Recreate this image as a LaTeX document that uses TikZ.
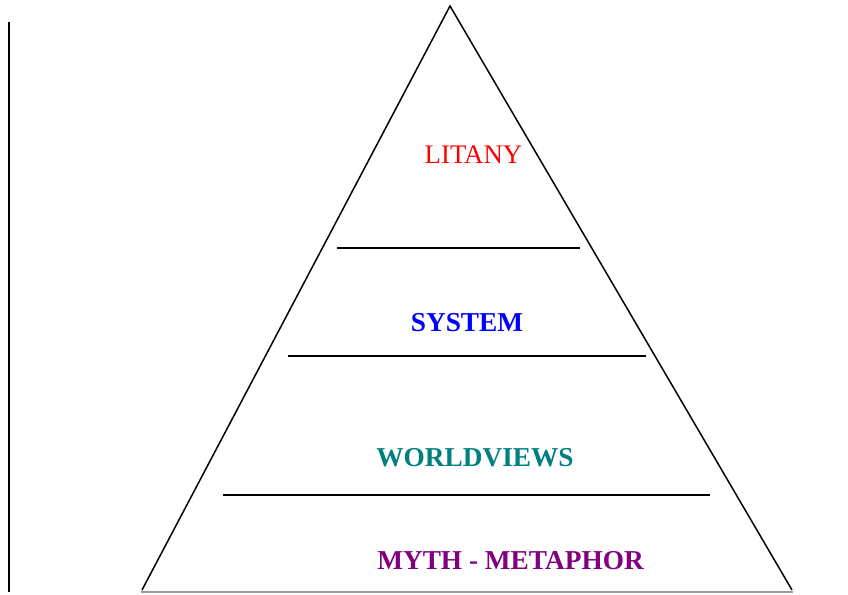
\documentclass[tikz,border=0pt]{standalone}
\usepackage{fontspec}
\setmainfont{Liberation Serif}
\definecolor{lred}{RGB}{255,0,0}
\definecolor{lblue}{RGB}{0,0,255}
\definecolor{lteal}{RGB}{0,128,128}
\definecolor{lpurple}{RGB}{128,0,128}
\begin{document}
\begin{tikzpicture}[x=1pt,y=-1pt,
  edge/.style={draw=black,line width=1.5pt},
  label/.style={anchor=base,inner sep=0pt,font=\fontsize{26.8}{30}\selectfont},
  blabel/.style={label,font=\fontsize{27.3}{30}\selectfont\bfseries}]
\useasboundingbox (0,0) rectangle (848,594);
\coordinate (apex) at (450,6);
\coordinate (bl) at (142,590);
\coordinate (br) at (792,590);
\draw[edge] (bl) -- (apex) -- (br);
\draw[draw=black!40,line width=1.4pt] (141,592) -- (793,592);
\draw[draw=black,line width=1.8pt] (9,22) -- (9,592);
\draw[edge] (337,248) -- (580,248);
\draw[edge] (288,356) -- (646,356);
\draw[edge] (223,495) -- (710,495);
\node[label,text=lred] (litany) at (473.5,163) {LITANY};
\node[blabel,text=lblue] (system) at (467,331) {SYSTEM};
\node[blabel,text=lteal] (world) at (475,466) {WORLDVIEWS};
\node[blabel,text=lpurple] (myth) at (510.5,569) {MYTH - METAPHOR};
\end{tikzpicture}
\end{document}
